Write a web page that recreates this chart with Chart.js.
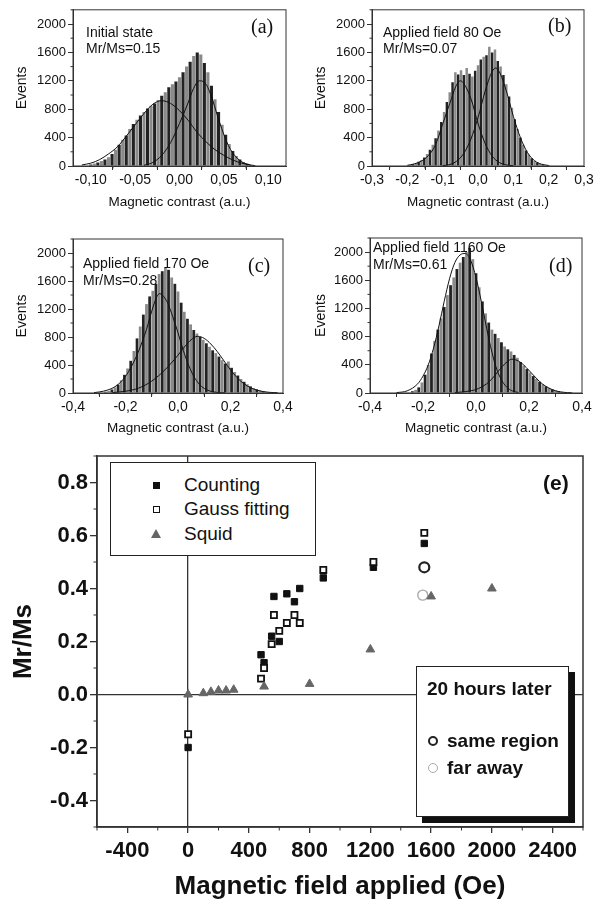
<!DOCTYPE html>
<html>
<head>
<meta charset="utf-8">
<script src="https://cdn.jsdelivr.net/npm/chart.js@4.4.1/dist/chart.umd.min.js"></script>
<style>
  body { margin: 0; width: 598px; height: 902px; position: relative; overflow: hidden; background: #fff;
         font-family: 'Liberation Sans', Arial, sans-serif; color: #111; }
  canvas { position: absolute; }
  .note { position: absolute; font-size: 14px; line-height: 16px; white-space: nowrap; }
  .tag { position: absolute; font-family: 'Liberation Serif', 'Times New Roman', serif; font-size: 20px; line-height: 22px; }
  .box { position: absolute; background: #fff; border: 1.5px solid #222; box-sizing: border-box; }
  .leg { position: absolute; font-size: 19px; line-height: 22px; white-space: nowrap; }
  .b { font-weight: bold; }
  .mk { position: absolute; box-sizing: border-box; }
</style>
</head>
<body>
<canvas id="ca" width="299" height="210" style="left:0;top:0"></canvas>
<canvas id="cb" width="299" height="210" style="left:299px;top:0"></canvas>
<canvas id="cc" width="299" height="226" style="left:0;top:210px"></canvas>
<canvas id="cd" width="299" height="226" style="left:299px;top:210px"></canvas>
<canvas id="ce" width="598" height="462" style="left:0;top:440px"></canvas>

<div class="note" style="left:86px;top:24px">Initial state</div>
<div class="note" style="left:86px;top:40px">Mr/Ms=0.15</div>
<div class="tag" style="left:251px;top:15px">(a)</div>

<div class="note" style="left:383px;top:24px">Applied field 80 Oe</div>
<div class="note" style="left:383px;top:40px">Mr/Ms=0.07</div>
<div class="tag" style="left:548px;top:14px">(b)</div>

<div class="note" style="left:83px;top:255px">Applied field 170 Oe</div>
<div class="note" style="left:83px;top:272px">Mr/Ms=0.28</div>
<div class="tag" style="left:248px;top:254px">(c)</div>

<div class="note" style="left:373px;top:239px">Applied field 1160 Oe</div>
<div class="note" style="left:373px;top:256px">Mr/Ms=0.61</div>
<div class="tag" style="left:549px;top:254px">(d)</div>

<!-- legend (e) -->
<div class="box" style="left:110px;top:462px;width:206px;height:94px"></div>
<div class="mk" style="left:153px;top:482px;width:7px;height:7px;background:#111"></div>
<div class="leg" style="left:184px;top:474px">Counting</div>
<div class="mk" style="left:153px;top:506px;width:7px;height:7px;border:1.8px solid #111;background:#fff"></div>
<div class="leg" style="left:184px;top:498px">Gauss fitting</div>
<div class="mk" style="left:151px;top:529px;width:0;height:0;border-left:5px solid transparent;border-right:5px solid transparent;border-bottom:9px solid #666"></div>
<div class="leg" style="left:184px;top:523px">Squid</div>

<div class="leg b" style="left:543px;top:472px;font-size:21px">(e)</div>

<div class="box" style="left:416px;top:666px;width:153px;height:151px;box-shadow:6px 6px 0 #111"></div>
<div class="leg b" style="left:427px;top:678px">20 hours later</div>
<div class="mk" style="left:428px;top:736px;width:10px;height:10px;border:2.2px solid #222;border-radius:50%"></div>
<div class="leg b" style="left:447px;top:730px">same region</div>
<div class="mk" style="left:428px;top:763px;width:10px;height:10px;border:1.4px solid #aaa;border-radius:50%"></div>
<div class="leg b" style="left:447px;top:757px">far away</div>

<script>
// ---- histogram (a) initial state ----
const aStart = -0.100, aWidth = 0.004;
const aCounts = [20, 35, 50, 70, 90, 125, 170, 230, 300, 370, 430, 520, 590, 650, 710, 760,
  810, 850, 880, 930, 990, 1040, 1110, 1150, 1190, 1250, 1320, 1400, 1470, 1550, 1600, 1570,
  1450, 1320, 1130, 940, 760, 580, 440, 310, 210, 140, 90, 55, 30, 15, 5];
const aFit1X = [-0.11, -0.10, -0.09, -0.08, -0.07, -0.06, -0.05, -0.04, -0.03, -0.02, -0.01, 0.0, 0.01, 0.02, 0.03, 0.04, 0.05, 0.06, 0.07, 0.08];
const aFit1Y = [15, 40, 90, 170, 270, 420, 580, 740, 870, 920, 880, 780, 640, 470, 340, 230, 150, 85, 40, 15];
const aFit2X = [-0.04, -0.03, -0.02, -0.01, 0.0, 0.01, 0.015, 0.0225, 0.03, 0.0375, 0.045, 0.055, 0.065, 0.075, 0.085];
const aFit2Y = [10, 50, 150, 330, 600, 900, 1070, 1200, 1150, 920, 620, 290, 110, 30, 5];
const aTicks = [-0.10, -0.05, 0.00, 0.05, 0.10];

// ---- histogram (b) 80 Oe ----
const bStart = -0.200, bWidth = 0.008;
const bCounts = [8, 15, 25, 40, 60, 85, 120, 170, 230, 300, 390, 500, 620, 760, 900, 1040,
  1180, 1320, 1290, 1350, 1280, 1380, 1300, 1260, 1340, 1420, 1500, 1540, 1560, 1680, 1600, 1640,
  1480, 1400, 1280, 1150, 980, 820, 660, 520, 400, 300, 220, 160, 110, 75, 50, 30, 18, 10, 4];
const bFit1X = [-0.20, -0.18, -0.16, -0.14, -0.12, -0.10, -0.08, -0.06, -0.05, -0.04, -0.02, 0.0, 0.02, 0.04, 0.06, 0.08, 0.10];
const bFit1Y = [10, 30, 70, 150, 300, 590, 880, 1150, 1200, 1160, 950, 600, 320, 140, 50, 15, 4];
const bFit2X = [-0.10, -0.08, -0.06, -0.04, -0.02, 0.0, 0.02, 0.04, 0.05, 0.06, 0.08, 0.10, 0.12, 0.14, 0.16, 0.18, 0.20];
const bFit2Y = [5, 20, 70, 180, 380, 680, 1050, 1330, 1380, 1330, 1060, 700, 400, 190, 75, 25, 8];
const bTicks = [-0.3, -0.2, -0.1, 0.0, 0.1, 0.2, 0.3];

// ---- histogram (c) 170 Oe ----
const cStart = -0.300, cWidth = 0.012;
const cCounts = [5, 10, 18, 30, 50, 80, 120, 180, 260, 350, 460, 600, 780, 950, 1120, 1270,
  1380, 1460, 1560, 1700, 1740, 1790, 1760, 1650, 1560, 1450, 1290, 1160, 1060, 980, 900, 850,
  800, 760, 710, 660, 610, 570, 520, 470, 420, 450, 360, 300, 250, 200, 160, 125, 95, 70,
  52, 38, 26, 18, 12, 7, 3];
const cFit1X = [-0.32, -0.30, -0.27, -0.24, -0.21, -0.18, -0.15, -0.12, -0.10, -0.08, -0.07, -0.06, -0.04, -0.02, 0.0, 0.02, 0.04, 0.06, 0.08, 0.10, 0.12, 0.15, 0.18];
const cFit1Y = [5, 15, 40, 90, 190, 360, 600, 910, 1170, 1380, 1420, 1400, 1290, 1090, 860, 610, 400, 240, 130, 65, 30, 8, 2];
const cFit2X = [-0.25, -0.20, -0.15, -0.10, -0.05, 0.0, 0.025, 0.05, 0.075, 0.10, 0.125, 0.15, 0.175, 0.20, 0.225, 0.25, 0.275, 0.30, 0.325, 0.35, 0.38];
const cFit2Y = [5, 25, 70, 170, 330, 540, 660, 760, 810, 780, 700, 590, 460, 330, 220, 135, 78, 42, 20, 9, 3];
const cTicks = [-0.4, -0.2, 0.0, 0.2, 0.4];

// ---- histogram (d) 1160 Oe ----
const dStart = -0.264, dWidth = 0.012;
const dCounts = [5, 12, 25, 45, 80, 150, 260, 400, 560, 740, 900, 1060, 1220, 1390, 1530, 1640,
  1760, 1850, 1930, 2000, 2060, 1900, 1700, 1500, 1300, 1130, 1000, 900, 840, 780, 720, 660,
  620, 590, 540, 500, 440, 390, 340, 290, 240, 200, 160, 125, 95, 72, 52, 38, 27, 18, 12, 7, 3];
const dFit1X = [-0.30, -0.26, -0.22, -0.20, -0.18, -0.16, -0.14, -0.12, -0.10, -0.08, -0.06, -0.04, -0.02, 0.0, 0.02, 0.04, 0.06, 0.08, 0.10, 0.12, 0.14, 0.16];
const dFit1Y = [5, 30, 130, 240, 400, 640, 950, 1300, 1620, 1850, 1960, 1980, 1880, 1640, 1300, 920, 580, 320, 160, 70, 25, 8];
const dFit2X = [-0.08, -0.04, 0.0, 0.04, 0.06, 0.08, 0.10, 0.12, 0.135, 0.15, 0.17, 0.19, 0.21, 0.23, 0.25, 0.27, 0.29, 0.31, 0.33, 0.36];
const dFit2Y = [5, 20, 50, 130, 200, 290, 380, 450, 480, 470, 430, 360, 280, 200, 130, 80, 45, 22, 10, 3];
const dTicks = [-0.4, -0.2, 0.0, 0.2, 0.4];

const histYTicks = [0, 400, 800, 1200, 1600, 2000];
const histYMinor = [200, 600, 1000, 1400, 1800, 2200];

// ---- (e) Mr/Ms versus applied field ----
const countX = [0, 480, 500, 550, 565, 600, 650, 700, 735, 890, 1220, 1555];
const countY = [-0.20, 0.15, 0.12, 0.22, 0.37, 0.20, 0.38, 0.35, 0.40, 0.44, 0.48, 0.57];
const gaussX = [0, 480, 500, 550, 565, 600, 650, 700, 735, 890, 1220, 1555];
const gaussY = [-0.15, 0.06, 0.10, 0.19, 0.30, 0.24, 0.27, 0.30, 0.27, 0.47, 0.50, 0.61];
const squidX = [0, 100, 150, 200, 250, 300, 500, 800, 1200, 1600, 2000];
const squidY = [0.0, 0.005, 0.01, 0.015, 0.015, 0.018, 0.03, 0.04, 0.17, 0.37, 0.40];
const sameX = [1555], sameY = [0.48];
const farX = [1545], farY = [0.375];
const eXTicks = [-400, 0, 400, 800, 1200, 1600, 2000, 2400];
const eXMinor = [-600, -200, 200, 600, 1000, 1400, 1800, 2200, 2600];
const eYTicks = [-0.4, -0.2, 0.0, 0.2, 0.4, 0.6, 0.8];
const eYMinor = [-0.5, -0.3, -0.1, 0.1, 0.3, 0.5, 0.7, 0.9];

Chart.defaults.font.family = "'Liberation Sans', Arial, sans-serif";
Chart.defaults.color = '#111';

const pairs = (xs, ys) => xs.map((x, i) => ({ x: x, y: ys[i] }));

// box round the plot area plus short minor ticks
const framePlugin = {
  id: 'frame',
  afterDraw(chart, args, opts) {
    const { ctx, chartArea: a, scales } = chart;
    ctx.save();
    ctx.strokeStyle = '#333';
    ctx.lineWidth = opts.width || 1;
    ctx.strokeRect(a.left, a.top, a.right - a.left, a.bottom - a.top);
    ctx.lineWidth = 1;
    ctx.beginPath();
    (opts.minorX || []).forEach(v => {
      const p = scales.x.getPixelForValue(v);
      ctx.moveTo(p, a.bottom); ctx.lineTo(p, a.bottom + opts.len);
    });
    (opts.minorY || []).forEach(v => {
      const p = scales.y.getPixelForValue(v);
      ctx.moveTo(a.left - opts.len, p); ctx.lineTo(a.left, p);
    });
    ctx.stroke();
    ctx.restore();
  }
};

function histChart(id, h) {
  const fitStyle = { type: 'line', borderColor: '#111', borderWidth: 1, pointRadius: 0,
                     cubicInterpolationMode: 'monotone', order: 1 };
  const minorX = h.ticks.slice(0, -1).map((v, i) => (v + h.ticks[i + 1]) / 2);
  new Chart(document.getElementById(id), {
    type: 'bar',
    data: {
      datasets: [
        Object.assign({ data: pairs(h.fit1X, h.fit1Y) }, fitStyle),
        Object.assign({ data: pairs(h.fit2X, h.fit2Y) }, fitStyle),
        {
          data: h.counts.map((v, i) => ({ x: h.start + i * h.width, y: v })),
          backgroundColor: c => c.dataIndex % 2 ? '#8a8a8a' : '#222',
          barPercentage: 0.88, categoryPercentage: 1, order: 2
        }
      ]
    },
    options: {
      responsive: false, animation: false,
      layout: { padding: { top: h.top, right: h.right, left: 0, bottom: 0 } },
      plugins: { legend: { display: false }, tooltip: { enabled: false },
                 frame: { minorX: minorX, minorY: histYMinor, len: 2.5 } },
      scales: {
        x: {
          type: 'linear', min: h.xMin, max: h.xMax, offset: false,
          afterBuildTicks: s => { s.ticks = h.ticks.map(v => ({ value: v })); },
          afterFit: s => { s.height = h.xHeight; },
          ticks: { font: { size: 14 }, padding: 2, maxRotation: 0, autoSkip: false,
                   callback: v => v.toFixed(h.digits).replace('.', ',') },
          grid: { drawOnChartArea: false, tickLength: 4, color: '#333' },
          border: { color: '#333' },
          title: { display: true, text: 'Magnetic contrast (a.u.)', font: { size: 13.5 }, padding: 0 }
        },
        y: {
          min: 0, max: 2200,
          afterBuildTicks: s => { s.ticks = histYTicks.map(v => ({ value: v })); },
          afterFit: s => { s.width = h.yWidth; },
          ticks: { font: { size: 13 }, padding: 2, callback: v => String(v) },
          grid: { drawOnChartArea: false, tickLength: 5, color: '#333' },
          border: { color: '#333' },
          title: { display: true, text: 'Events', font: { size: 14 }, padding: { top: 14, bottom: 0 } }
        }
      }
    },
    plugins: [framePlugin]
  });
}

histChart('ca', { start: aStart, width: aWidth, counts: aCounts, fit1X: aFit1X, fit1Y: aFit1Y,
  fit2X: aFit2X, fit2Y: aFit2Y, ticks: aTicks, xMin: -0.12, xMax: 0.12, digits: 2,
  top: 9, right: 13, xHeight: 44, yWidth: 73 });
histChart('cb', { start: bStart, width: bWidth, counts: bCounts, fit1X: bFit1X, fit1Y: bFit1Y,
  fit2X: bFit2X, fit2Y: bFit2Y, ticks: bTicks, xMin: -0.3, xMax: 0.3, digits: 1,
  top: 9, right: 14, xHeight: 44, yWidth: 73 });
histChart('cc', { start: cStart, width: cWidth, counts: cCounts, fit1X: cFit1X, fit1Y: cFit1Y,
  fit2X: cFit2X, fit2Y: cFit2Y, ticks: cTicks, xMin: -0.4, xMax: 0.4, digits: 1,
  top: 29, right: 16, xHeight: 43, yWidth: 73 });
histChart('cd', { start: dStart, width: dWidth, counts: dCounts, fit1X: dFit1X, fit1Y: dFit1Y,
  fit2X: dFit2X, fit2Y: dFit2Y, ticks: dTicks, xMin: -0.4, xMax: 0.4, digits: 1,
  top: 28, right: 16, xHeight: 43, yWidth: 71 });

const zeroLine = c => (c.tick && c.tick.value === 0) ? '#333' : 'rgba(0,0,0,0)';

new Chart(document.getElementById('ce'), {
  type: 'scatter',
  data: {
    datasets: [
      { label: 'Squid', data: pairs(squidX, squidY), pointStyle: 'triangle', pointRadius: 5,
        backgroundColor: '#666', borderColor: '#666', borderWidth: 1 },
      { label: 'Gauss fitting', data: pairs(gaussX, gaussY), pointStyle: 'rect', pointRadius: 4.3,
        backgroundColor: '#fff', borderColor: '#111', borderWidth: 1.8 },
      { label: 'Counting', data: pairs(countX, countY), pointStyle: 'rect', pointRadius: 4.5,
        backgroundColor: '#111', borderColor: '#111', borderWidth: 1 },
      { label: 'same region', data: pairs(sameX, sameY), pointStyle: 'circle', pointRadius: 5,
        backgroundColor: 'rgba(0,0,0,0)', borderColor: '#222', borderWidth: 2.2 },
      { label: 'far away', data: pairs(farX, farY), pointStyle: 'circle', pointRadius: 5,
        backgroundColor: 'rgba(0,0,0,0)', borderColor: '#aaa', borderWidth: 1.4 }
    ]
  },
  options: {
    responsive: false, animation: false,
    layout: { padding: { top: 16, right: 15, left: 0, bottom: 0 } },
    plugins: { legend: { display: false }, tooltip: { enabled: false },
               frame: { width: 1.5, minorX: eXMinor, minorY: eYMinor, len: 3.5 } },
    scales: {
      x: {
        type: 'linear', min: -600, max: 2600,
        afterBuildTicks: s => { s.ticks = eXTicks.map(v => ({ value: v })); },
        afterFit: s => { s.height = 75; },
        ticks: { font: { size: 22, weight: 'bold' }, padding: 5, maxRotation: 0, autoSkip: false,
                 callback: v => String(v) },
        grid: { color: zeroLine, tickColor: '#333', tickLength: 6, lineWidth: 1.3 },
        border: { color: '#333', width: 1.5 },
        title: { display: true, text: 'Magnetic field applied (Oe)', font: { size: 26, weight: 'bold' },
                 padding: { top: 0, bottom: 0 } }
      },
      y: {
        min: -0.5, max: 0.9,
        afterBuildTicks: s => { s.ticks = eYTicks.map(v => ({ value: v })); },
        afterFit: s => { s.width = 97; },
        ticks: { font: { size: 22, weight: 'bold' }, padding: 2, callback: v => v.toFixed(1) },
        grid: { color: zeroLine, tickColor: '#333', tickLength: 7, lineWidth: 1.3 },
        border: { color: '#333', width: 1.5 },
        title: { display: true, text: 'Mr/Ms', font: { size: 26, weight: 'bold' }, padding: { top: 8, bottom: 0 } }
      }
    }
  },
  plugins: [framePlugin]
});
</script>
</body>
</html>
